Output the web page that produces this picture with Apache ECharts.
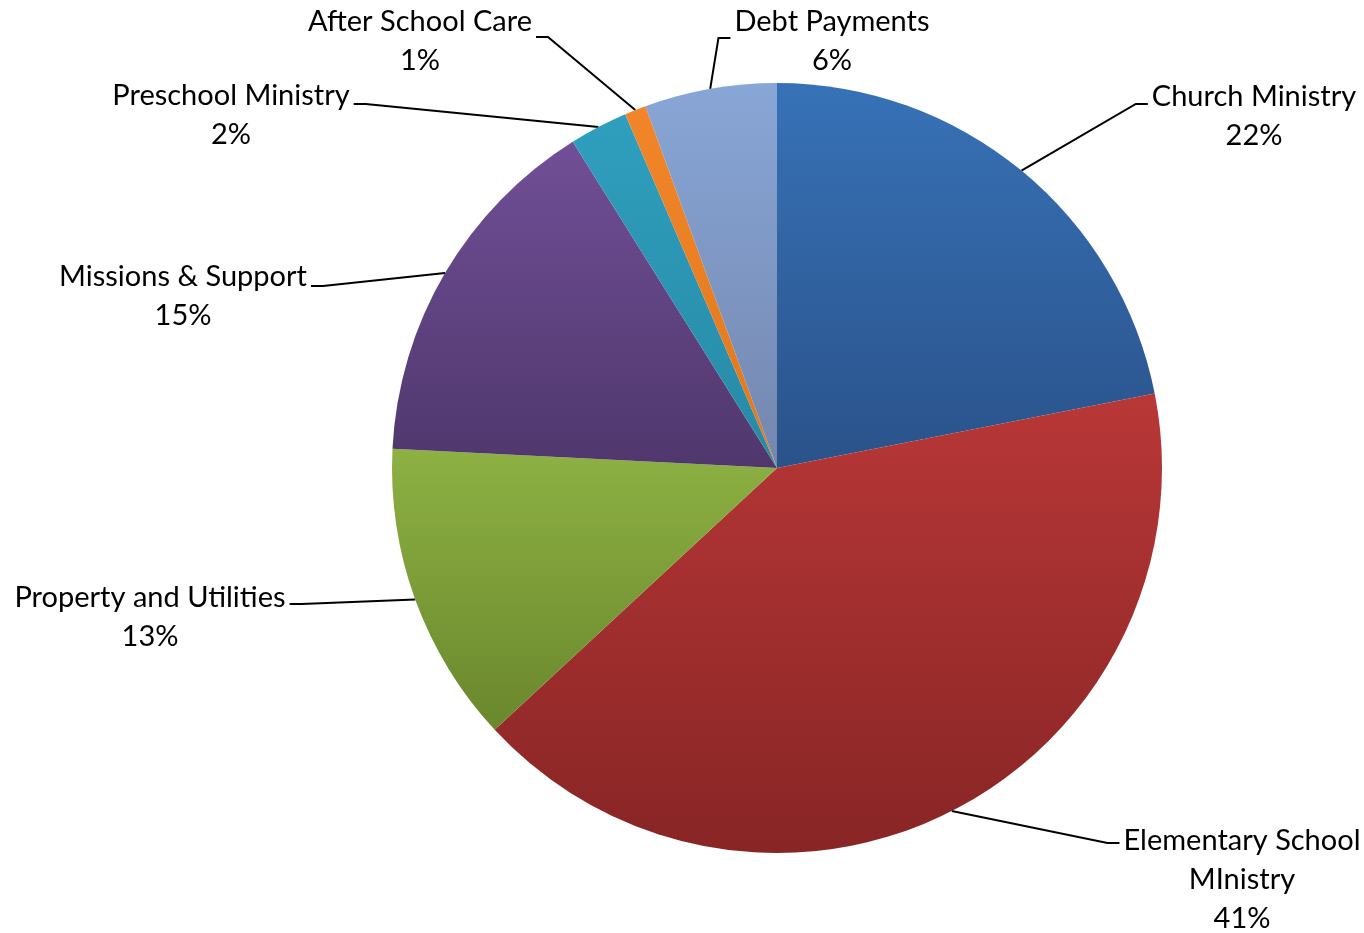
<!DOCTYPE html>
<html><head><meta charset="utf-8">
<script src="https://cdn.jsdelivr.net/npm/echarts@6/dist/echarts.min.js"></script>
<style>html,body{margin:0;padding:0;background:#fff}#chart{width:1364px;height:933px}</style>
</head><body><div id="chart"></div>
<script>
// ---- data ----
const categories = ['Church Ministry', 'Elementary School\nMInistry', 'Property and Utilities', 'Missions & Support', 'Preschool Ministry', 'After School Care', 'Debt Payments'];
const shares = [21.9, 41.2, 12.7, 15.3, 2.45, 0.9, 5.55];

// ---- styles ----
const topColors = ['#3772b7', '#b93737', '#8db143', '#714f97', '#2f9fbe', '#f2852a', '#88a6d6'];
const bottomColors = ['#2a528a', '#882525', '#6a872d', '#4f376c', '#2789a5', '#e0781c', '#7487af'];
// label placement: centre x, top y, side where guide line attaches, guide line y
const labelPlace = [
  {x: 1254, y: 77, side: 'left', ly: 104},
  {x: 1242, y: 821, side: 'left', ly: 843},
  {x: 150, y: 578, side: 'right', ly: 604},
  {x: 183, y: 257, side: 'right', ly: 286},
  {x: 231, y: 76, side: 'right', ly: 104},
  {x: 420, y: 2, side: 'right', ly: 37},
  {x: 832, y: 2, side: 'left', ly: 38}
];

const total = shares.reduce((a, b) => a + b, 0);
const chart = echarts.init(document.getElementById('chart'), null, {renderer: 'canvas'});
chart.setOption({
  animation: false,
  backgroundColor: '#ffffff',
  series: [{
    type: 'pie',
    center: [777, 468],
    radius: [0, 385],
    startAngle: 90,
    clockwise: true,
    avoidLabelOverlap: false,
    minShowLabelAngle: 0,
    data: categories.map((name, i) => ({
      name: name,
      value: shares[i],
      itemStyle: {
        color: new echarts.graphic.LinearGradient(0, 0, 0, 1, [
          {offset: 0, color: topColors[i]},
          {offset: 1, color: bottomColors[i]}
        ])
      }
    })),
    itemStyle: {borderWidth: 0},
    label: {
      show: true,
      position: 'outside',
      formatter: p => p.name + '\n' + Math.round(p.value / total * 100) + '%',
      fontFamily: 'Lato',
      fontSize: 29,
      lineHeight: 39,
      color: '#000',
      align: 'center'
    },
    labelLine: {show: true, lineStyle: {color: '#000', width: 2}},
    emphasis: {disabled: true},
    labelLayout: function (params) {
      const i = params.dataIndex;
      const lp = labelPlace[i];
      const w = params.labelRect.width;
      const start = params.labelLinePoints ? params.labelLinePoints[0] : [777, 468];
      let ex, bx;
      if (lp.side === 'left') { ex = lp.x - w / 2 - 4; bx = ex - 12; }
      else { ex = lp.x + w / 2 + 4; bx = ex + 12; }
      return {
        x: lp.x, y: lp.y, align: 'center', verticalAlign: 'top',
        hideOverlap: false,
        labelLinePoints: [start, [bx, lp.ly], [ex, lp.ly]]
      };
    }
  }]
});
</script></body></html>
